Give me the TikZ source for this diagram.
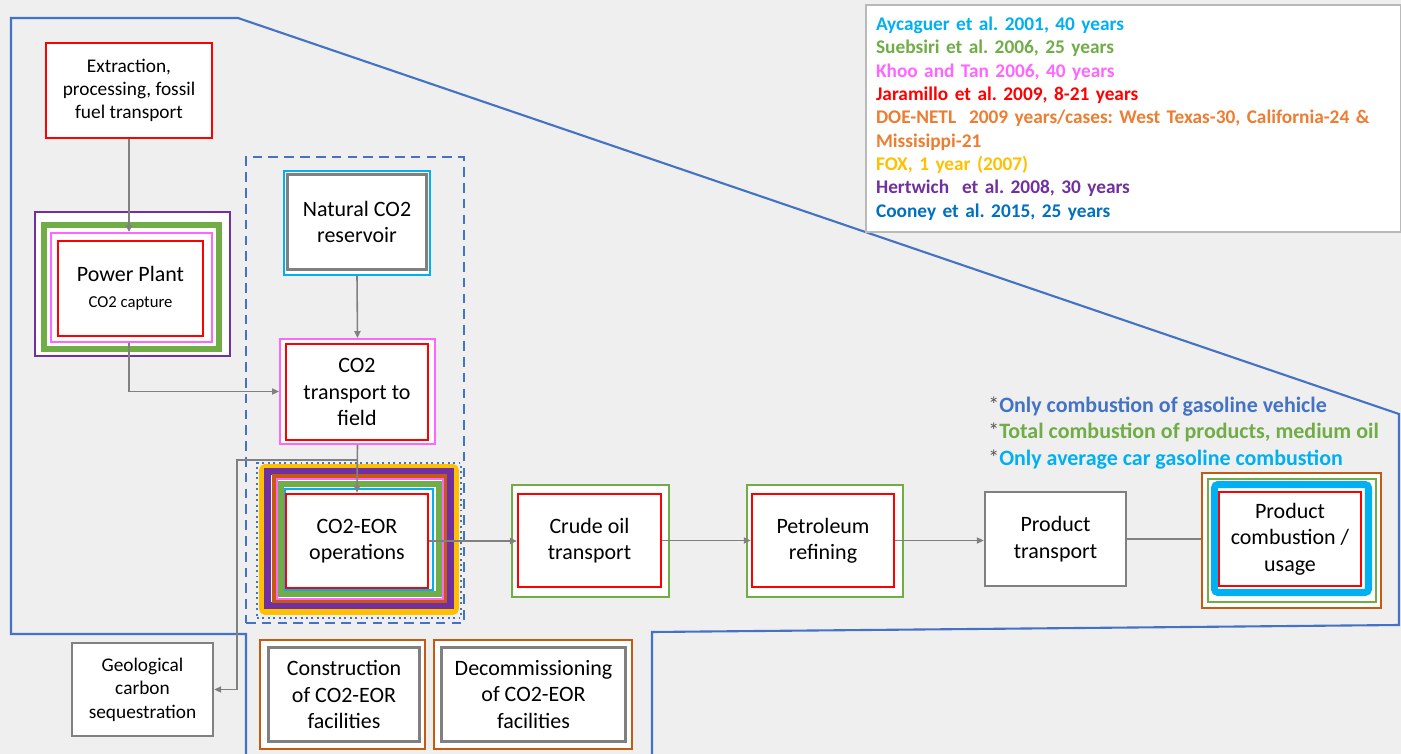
\documentclass[tikz,border=0pt]{standalone}
\usepackage{fontspec}
\setmainfont{Carlito}
\usetikzlibrary{arrows.meta,backgrounds}
\frenchspacing

\definecolor{bgcol}{RGB}{239,239,239}
\definecolor{ored}{RGB}{255,0,0}
\definecolor{opink}{RGB}{255,102,255}
\definecolor{ocyan}{RGB}{0,176,240}
\definecolor{ogreen}{RGB}{112,173,71}
\definecolor{oorange}{RGB}{237,125,49}
\definecolor{obrown}{RGB}{197,90,17}
\definecolor{oyellow}{RGB}{255,192,0}
\definecolor{opurple}{RGB}{112,48,160}
\definecolor{oblue}{RGB}{0,112,192}
\definecolor{oframe}{RGB}{68,114,196}
\definecolor{ogray}{RGB}{128,128,128}
\definecolor{ostar}{RGB}{89,89,89}

\newcommand{\txtL}{\fontsize{12.5}{15}\selectfont}
\newcommand{\txtM}{\fontsize{11}{13.3}\selectfont}
\newcommand{\txtS}{\fontsize{9.5}{12}\selectfont}

\tikzset{
  ring/.style={draw=#1, rectangle, fill=white, inner sep=0pt},
  box/.style={draw=#1, rectangle, fill=white, inner sep=0pt, align=center, font=\txtL},
  flow/.style={draw=ogray, line width=0.9pt, -{Triangle[length=4pt,width=3.5pt]}},
}

\begin{document}
\begin{tikzpicture}[x=0.02cm, y=-0.02cm]
\begin{scope}[on background layer]
  \fill[bgcol] (0,0) rectangle (1401,754);
\end{scope}
\useasboundingbox (0,0) rectangle (1401,754);

% system boundary
\draw[oframe, line width=1.2pt] (246,754) -- (246,634) -- (11,634) -- (11,18) -- (238,18)
  -- (1399,414) -- (1399,625) -- (652,632) -- (652,754);

% legend
\node[draw=gray!55, fill=white, line width=0.8pt, inner xsep=0.2cm, inner ysep=0pt,
  minimum height=4.54cm, text width=10.3cm, align=left, font=\txtM\bfseries] (legend) at (1133.5,118.5)
  {\textcolor{ocyan}{Aycaguer et al. 2001, 40 years}\\
   \textcolor{ogreen}{Suebsiri et al. 2006, 25 years}\\
   \textcolor{opink}{Khoo and Tan 2006, 40 years}\\
   \textcolor{ored}{Jaramillo et al. 2009, 8-21 years}\\
   \textcolor{oorange}{DOE-NETL\ \ 2009 years/cases: West Texas-30, California-24 \&}\\
   \textcolor{oorange}{Missisippi-21}\\
   \textcolor{oyellow}{FOX, 1 year (2007)}\\
   \textcolor{opurple}{Hertwich\ \ et al. 2008, 30 years}\\
   \textcolor{oblue}{Cooney et al. 2015, 25 years}};

\node[align=left, font=\txtL, anchor=west, inner sep=0pt] (notes) at (988,433)
  {\textcolor{ostar}{*}\textbf{\textcolor{oframe}{Only combustion of gasoline vehicle}}\\
   \textcolor{ostar}{*}\textbf{\textcolor{ogreen}{Total combustion of products, medium oil}}\\
   \textcolor{ostar}{*}\textbf{\textcolor{ocyan}{Only average car gasoline combustion}}};

% upstream
\node[box=ored, line width=1.4pt, font=\txtM, minimum width=3.32cm, minimum height=1.90cm] (extr) at (129,90.5)
  {Extraction,\\processing, fossil\\fuel transport};

\node[ring=opurple, line width=1.1pt, minimum width=3.90cm, minimum height=2.88cm] (ppPurple) at (132.5,284) {};
\node[ring=ogreen, line width=3.2pt, minimum width=3.50cm, minimum height=2.48cm] (ppGreen) at (131.5,287) {};
\node[ring=opink, line width=1.1pt, minimum width=3.22cm, minimum height=2.18cm] (ppPink) at (131.5,287.5) {};
\node[box=ored, line width=1.4pt, minimum width=2.90cm, minimum height=1.90cm] (pp) at (130.5,288.5)
  {Power Plant\\{\txtS CO2 capture}};

% CO2 supply
\node[draw=oframe, line width=1.3pt, dash pattern=on 5.5pt off 3.5pt, rectangle, inner sep=0pt,
  minimum width=4.36cm, minimum height=9.32cm] (supply) at (355,390) {};

\node[ring=ocyan, line width=1.1pt, minimum width=2.92cm, minimum height=2.08cm] (natCyan) at (357,223) {};
\node[box=ogray, line width=1.7pt, minimum width=2.78cm, minimum height=1.90cm] (nat) at (357,222)
  {Natural CO2\\reservoir};

\node[ring=opink, line width=1.1pt, minimum width=3.10cm, minimum height=2.10cm] (co2tPink) at (357.5,391.5) {};
\node[box=ored, line width=1.4pt, minimum width=2.84cm, minimum height=1.92cm] (co2t) at (357,392)
  {CO2\\transport to\\field};

% EOR operations
\node[draw=oframe, line width=1.1pt, dotted, rectangle, inner sep=0pt,
  minimum width=4.08cm, minimum height=3.10cm] (eorDots) at (359,540.5) {};
\node[ring=oyellow, line width=3.4pt, rounded corners=2pt, minimum width=3.88cm, minimum height=2.90cm] (eorYellow) at (359,539.5) {};
\node[ring=opurple, line width=4pt, minimum width=3.66cm, minimum height=2.68cm] (eorPurple) at (359,538.5) {};
\node[ring=obrown, line width=2.3pt, minimum width=3.42cm, minimum height=2.50cm] (eorBrown) at (359.5,538.5) {};
\node[ring=opink, line width=1pt, minimum width=3.32cm, minimum height=2.40cm] (eorPink) at (360,539) {};
\node[ring=ogreen, line width=3.4pt, minimum width=3.16cm, minimum height=2.20cm] (eorGreen) at (360,539) {};
\node[ring=ocyan, line width=1.4pt, minimum width=2.96cm, minimum height=2.02cm] (eorCyan) at (359,539.5) {};
\node[box=ored, line width=1.4pt, minimum width=2.84cm, minimum height=1.88cm] (eor) at (357,541)
  {CO2-EOR\\operations};

% downstream
\node[ring=ogreen, line width=1.1pt, minimum width=3.14cm, minimum height=2.24cm] (crudeGreen) at (590.5,541) {};
\node[box=ored, line width=1.4pt, minimum width=2.86cm, minimum height=1.86cm] (crude) at (589.5,540.5)
  {Crude oil\\transport};

\node[ring=ogreen, line width=1.1pt, minimum width=3.12cm, minimum height=2.24cm] (petGreen) at (825,541) {};
\node[box=ored, line width=1.4pt, minimum width=2.84cm, minimum height=1.86cm] (pet) at (823,540.5)
  {Petroleum\\refining};

\node[box=ogray, line width=1.4pt, minimum width=2.82cm, minimum height=1.88cm] (ptr) at (1055.5,539)
  {Product\\transport};

\node[ring=obrown, line width=1.4pt, minimum width=3.58cm, minimum height=2.70cm] (pcBrown) at (1291.5,540.5) {};
\node[ring=ogreen, line width=1.1pt, minimum width=3.36cm, minimum height=2.46cm] (pcGreen) at (1292,540.5) {};
\node[ring=ocyan, line width=4pt, rounded corners=2pt, minimum width=3.08cm, minimum height=2.16cm] (pcCyan) at (1291.5,538.5) {};
\node[box=ored, line width=1.4pt, minimum width=2.84cm, minimum height=1.88cm] (pc) at (1290,539)
  {Product\\combustion /\\usage};

% outside the boundary
\node[box=ogray, line width=1.4pt, font=\txtM, minimum width=2.82cm, minimum height=1.86cm] (geo) at (142.5,689.5)
  {Geological\\carbon\\sequestration};

\node[ring=obrown, line width=1.4pt, minimum width=3.30cm, minimum height=2.18cm] (conBrown) at (342.5,694.5) {};
\node[box=ogray, line width=1.7pt, minimum width=3.02cm, minimum height=1.88cm] (con) at (344,694.5)
  {Construction\\of CO2-EOR\\facilities};

\node[ring=obrown, line width=1.4pt, minimum width=3.96cm, minimum height=2.18cm] (decBrown) at (533,694.5) {};
\node[box=ogray, line width=1.7pt, minimum width=3.68cm, minimum height=1.88cm] (dec) at (533.5,694.5)
  {Decommissioning\\of CO2-EOR\\facilities};

% flows
\coordinate (split) at (357,460);
\coordinate (drop) at (237,460);
\draw[flow] (extr.south) -- (extr.south |- ppPink.north);
\draw[flow] (extr.south |- ppPink.south) |- (co2tPink.west);
\draw[flow] (natCyan.south) -- (co2tPink.north);
\draw[flow] (co2tPink.south) -- (eor.north);
\draw[flow] (split) -- (drop) |- (geo.east);
\draw[flow] (eor.east) -- (eor.east -| crude.west);
\draw[flow] (crude.east) -- (pet.west);
\draw[flow] (pet.east) -- (pet.east -| ptr.west);
\begin{scope}[on background layer]
  \draw[flow] (ptr.east) -- (pc.west);
\end{scope}
\end{tikzpicture}
\end{document}
